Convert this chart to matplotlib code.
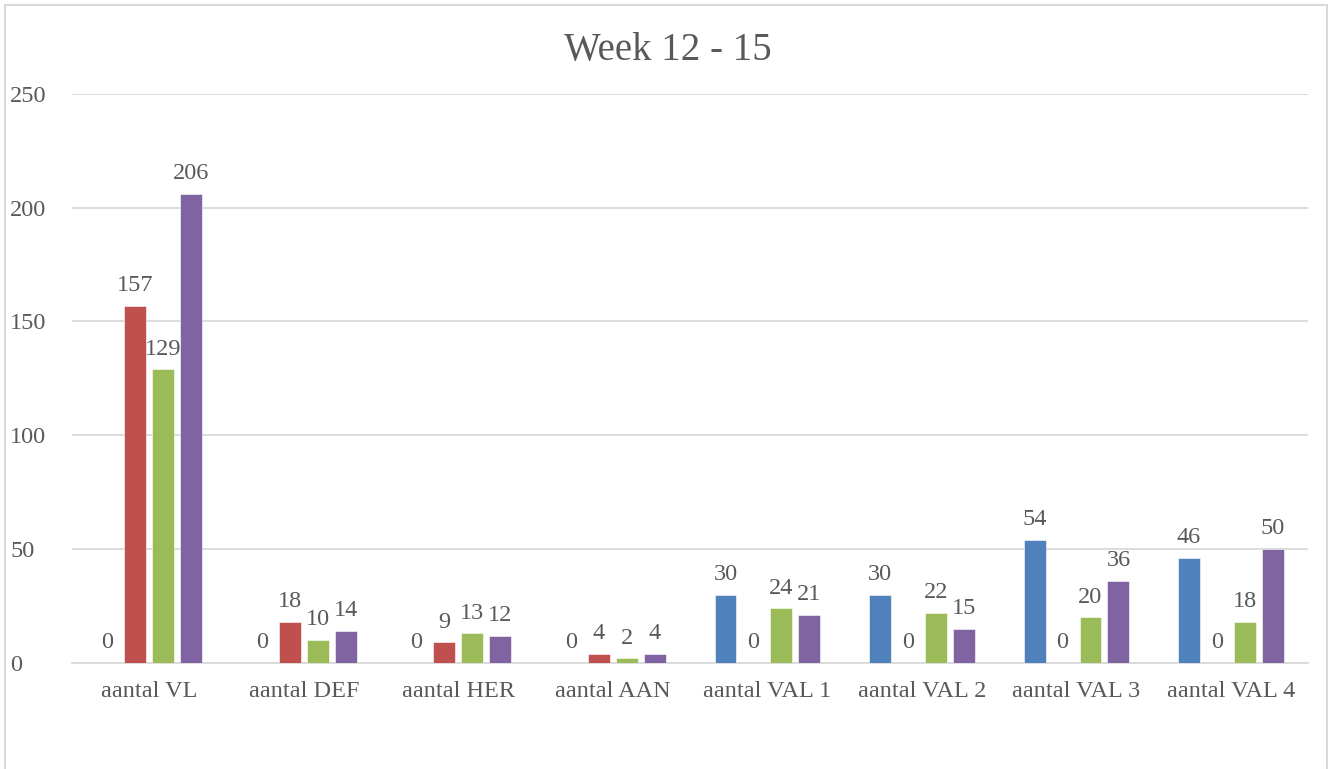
import numpy as np
import matplotlib.pyplot as plt
from matplotlib.patches import Rectangle

plt.rcParams['font.family'] = ['Liberation Serif', 'DejaVu Serif']

categories = ["aantal VL", "aantal DEF", "aantal HER", "aantal AAN",
              "aantal VAL 1", "aantal VAL 2", "aantal VAL 3", "aantal VAL 4"]
series_names = ["Week 12", "Week 13", "Week 14", "Week 15"]
week12 = [0, 0, 0, 0, 30, 30, 54, 46]
week13 = [157, 18, 9, 4, 0, 0, 0, 0]
week14 = [129, 10, 13, 2, 24, 22, 20, 18]
week15 = [206, 14, 12, 4, 21, 15, 36, 50]
series = [week12, week13, week14, week15]
colors = ["#4F81BD", "#C0504D", "#9BBB59", "#8064A2"]

text_color = "#595959"

fig = plt.figure(figsize=(13.35, 7.69), dpi=100)
ax = fig.add_axes([0.054, 0.138, 0.926, 0.740])

x = np.arange(len(categories))
pitch = 0.181
width = 0.142
for i, (vals, col) in enumerate(zip(series, colors)):
    pos = x + (i - 1.5) * pitch
    bars = ax.bar(pos, vals, width, color=col, edgecolor="white", linewidth=0.4,
                  label=series_names[i], zorder=3)
    ax.bar_label(bars, labels=[str(v) for v in vals], padding=7,
                 fontsize=17.5, color=text_color)

ax.set_xlim(-0.5, len(categories) - 0.5)
ax.set_ylim(0, 250)
ax.set_yticks(range(0, 251, 50))
ax.yaxis.grid(True, color="#D9D9D9", linewidth=1.3, zorder=0)
ax.set_xticks(x)
ax.set_xticklabels(categories)
ax.tick_params(axis="both", length=0, labelsize=17.5, labelcolor=text_color)
ax.tick_params(axis="x", pad=13)
ax.tick_params(axis="y", pad=44.5)
for lbl in ax.get_yticklabels():
    lbl.set_horizontalalignment("left")
for s in ["top", "right", "left"]:
    ax.spines[s].set_visible(False)
ax.spines["bottom"].set_color("#D9D9D9")
ax.spines["bottom"].set_linewidth(1.3)

fig.text(0.5, 0.934, "Week 12 - 15", ha="center", va="center",
         fontsize=28, color=text_color)

fig.patches.append(Rectangle((0.004, -0.1), 0.99, 1.093, transform=fig.transFigure,
                             fill=False, edgecolor="#D9D9D9", linewidth=1.5))

fig.savefig("out.png", dpi=100)
